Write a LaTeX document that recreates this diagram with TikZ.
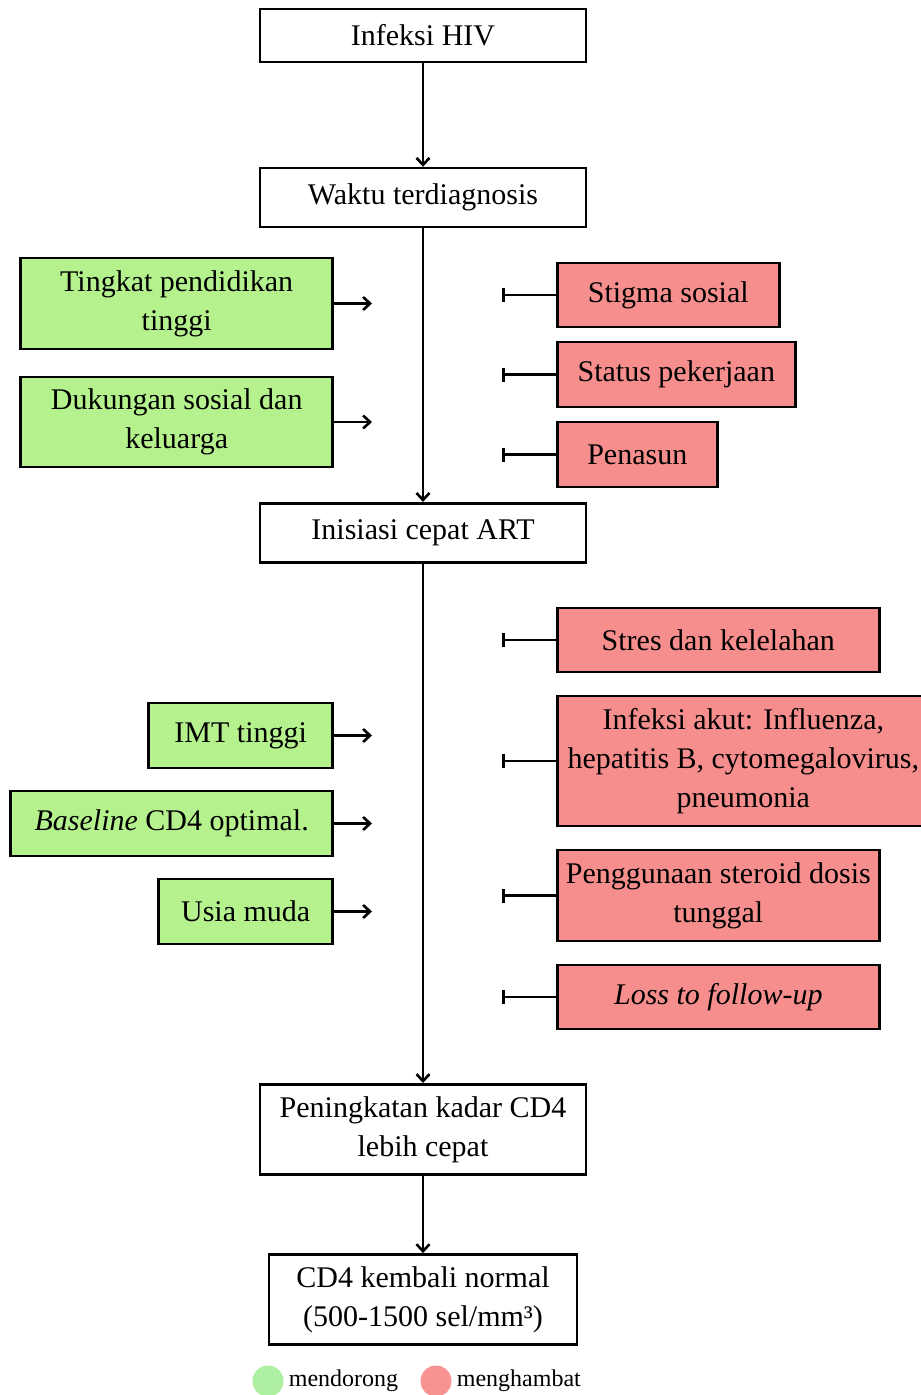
\documentclass[tikz,border=0pt]{standalone}
\usepackage{xcolor}
\usepackage{fontspec}
\setmainfont{Liberation Serif}
\usepackage{tikz}
\usetikzlibrary{arrows.meta,positioning}
\definecolor{proGreen}{HTML}{B5F28E}
\definecolor{conRed}{HTML}{F68E8E}
\definecolor{legGreen}{HTML}{AEEFA2}
\definecolor{legRed}{HTML}{F79393}

\begin{document}
\begin{tikzpicture}[
  x=1pt, y=-1pt,
  mainbox/.style={rectangle, draw, fill=white, line width=2.6pt, minimum width=326pt, inner sep=2pt, align=center, font=\rmfamily\fontsize{30}{39}\selectfont},
  probox/.style={rectangle, draw, fill=proGreen, line width=2.6pt, inner sep=2pt, align=center, anchor=east, font=\rmfamily\fontsize{30}{39}\selectfont},
  conbox/.style={rectangle, draw, fill=conRed, line width=2.6pt, inner sep=2pt, align=center, anchor=west, font=\rmfamily\fontsize{30}{39}\selectfont},
  arrow/.style={-{Straight Barb[length=7pt,width=13pt,line width=2.6pt]}, line width=2.8pt},
  inhibit/.style={-{Bar[width=14pt]}, line width=2.8pt},
  legdot/.style={circle, fill=#1, minimum size=31pt, inner sep=0pt},
  legtext/.style={right=5pt of #1, inner sep=0pt, font=\rmfamily\fontsize{24}{28}\selectfont}
]
\useasboundingbox (0,0) rectangle (921,1395);

% Main flow (middle column)
\node[mainbox, minimum height=53pt] (hiv) at (423,35.5) {Infeksi HIV};
\node[mainbox, minimum height=59pt, below=103.5pt of hiv] (diag) {Waktu terdiagnosis};
\node[mainbox, minimum height=59pt, below=273.5pt of diag] (art) {Inisiasi cepat ART};
\node[mainbox, minimum height=90pt, below=519.5pt of art] (naik) {Peningkatan kadar CD4\\lebih cepat};
\node[mainbox, minimum height=90pt, minimum width=308pt, below=77.5pt of naik] (normal) {CD4 kembali normal\\(500-1500 sel/mm³)};

% Supporting factors (left column)
\node[probox, minimum width=312pt, minimum height=91pt] (didik) at (334,303.5) {Tingkat pendidikan\\tinggi};
\node[probox, minimum width=312pt, minimum height=90pt] (dukung) at (334,422) {Dukungan sosial dan\\keluarga};
\node[probox, minimum width=184pt, minimum height=65pt] (imt) at (334,735.5) {IMT tinggi};
\node[probox, minimum width=322pt, minimum height=65pt] (basecd) at (334,823.5) {\textit{Baseline} CD4 optimal.};
\node[probox, minimum width=174pt, minimum height=65pt] (usia) at (334,911.5) {Usia muda};

% Inhibiting factors (right column)
\node[conbox, minimum width=222pt, minimum height=64pt] (stigma) at (556,295) {Stigma sosial};
\node[conbox, minimum width=238pt, minimum height=65pt] (kerja) at (556,374.5) {Status pekerjaan};
\node[conbox, minimum width=160pt, minimum height=65pt] (penasun) at (556,454.5) {Penasun};
\node[conbox, minimum width=322pt, minimum height=64pt] (stres) at (556,640) {Stres dan kelelahan};
\node[conbox, minimum width=372pt, minimum height=130pt] (akut) at (556,761) {Infeksi akut: Influenza,\\hepatitis B, cytomegalovirus,\\pneumonia};
\node[conbox, minimum width=322pt, minimum height=91pt] (steroid) at (556,895.5) {Penggunaan steroid dosis\\tunggal};
\node[conbox, minimum width=322pt, minimum height=64pt] (loss) at (556,997) {\textit{Loss to follow-up}};

% Free ends of the side connectors
\foreach \n in {didik,dukung,imt,basecd,usia}
  \coordinate[right=38pt of \n] (\n-end);
\foreach \n in {stigma,kerja,penasun,stres,akut,steroid,loss}
  \coordinate[left=54pt of \n] (\n-end);

% Arrows - main flow
\draw[arrow] (hiv) -- (diag);
\draw[arrow] (diag) -- (art);
\draw[arrow] (art) -- (naik);
\draw[arrow] (naik) -- (normal);

% Arrows - supporting factors
\foreach \n in {didik,dukung,imt,basecd,usia}
  \draw[arrow] (\n.east) -- (\n-end);

% Bars - inhibiting factors
\foreach \n in {stigma,kerja,penasun,stres,akut,steroid,loss}
  \draw[inhibit] (\n.west) -- (\n-end);

% Legend
\node[legdot=legGreen] (lgreen) at (268,1381) {};
\node[legtext=lgreen] (lpro) {mendorong};
\node[legdot=legRed] (lred) at (436,1381) {};
\node[legtext=lred] (lcon) {menghambat};

\end{tikzpicture}
\end{document}
